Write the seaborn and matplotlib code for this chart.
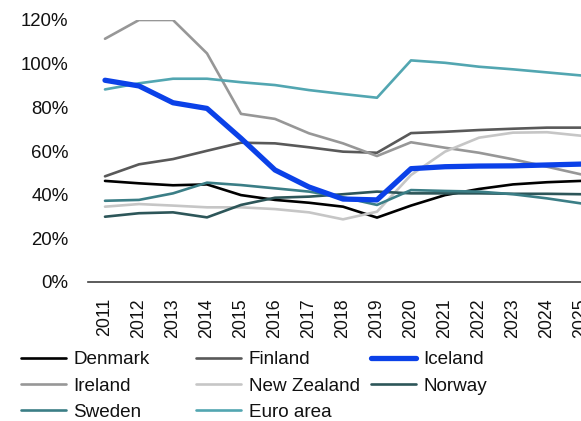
import matplotlib
matplotlib.use("Agg")
import matplotlib.pyplot as plt
import matplotlib.ticker as mticker
import seaborn as sns
import pandas as pd

years = list(range(2011, 2026))

denmark = [46.3, 45.2, 44.3, 44.7, 39.8, 37.6, 36.3, 34.5, 29.5, 35.0, 39.8, 42.6, 44.7, 45.7, 46.3]
finland = [48.4, 53.9, 56.3, 60.1, 63.8, 63.5, 61.7, 59.7, 59.2, 68.2, 68.8, 69.6, 70.2, 70.7, 70.7]
iceland = [92.4, 89.8, 82.1, 79.5, 65.8, 51.3, 43.5, 38.0, 37.6, 51.9, 52.8, 53.1, 53.2, 53.6, 54.0]
ireland = [111.4, 120.0, 120.0, 104.7, 77.0, 74.7, 68.1, 63.5, 57.7, 64.0, 61.5, 59.2, 56.2, 52.8, 49.3]
new_zealand = [34.5, 35.7, 35.0, 34.2, 34.2, 33.4, 31.9, 28.7, 32.2, 49.0, 59.7, 66.1, 68.4, 68.6, 67.0]
norway = [29.9, 31.5, 31.9, 29.6, 35.3, 38.6, 39.1, 40.2, 41.4, 40.6, 40.6, 40.6, 40.4, 40.4, 40.2]
sweden = [37.2, 37.6, 40.6, 45.5, 44.4, 42.9, 41.4, 38.8, 35.3, 42.1, 41.7, 41.4, 40.2, 38.3, 36.0]
euro_area = [88.2, 91.0, 93.1, 93.1, 91.5, 90.2, 87.9, 86.1, 84.4, 101.5, 100.4, 98.6, 97.4, 96.0, 94.6]

series = {
    "Denmark": denmark,
    "Finland": finland,
    "Iceland": iceland,
    "Ireland": ireland,
    "New Zealand": new_zealand,
    "Norway": norway,
    "Sweden": sweden,
    "Euro area": euro_area,
}

colors = {
    "Denmark": "#000000",
    "Finland": "#595959",
    "Iceland": "#0b41e8",
    "Ireland": "#979797",
    "New Zealand": "#c6c6c6",
    "Norway": "#2d5659",
    "Sweden": "#3b7e86",
    "Euro area": "#52a6b1",
}
widths = {name: 1.9 for name in series}
widths["Iceland"] = 3.8

y_ticks = [0, 20, 40, 60, 80, 100, 120]

df = pd.DataFrame(
    [(name, yr, v) for name, vals in series.items() for yr, v in zip(years, vals)],
    columns=["series", "year", "value"],
)

sns.set_theme(style="white")
plt.rcParams["font.family"] = ["Liberation Sans", "DejaVu Sans"]

fig = plt.figure(figsize=(5.81, 4.21), dpi=100)
ax = fig.add_axes([88 / 581, 139 / 421, 510 / 581, 262 / 421])

draw_order = ["Denmark", "Finland", "Ireland", "New Zealand", "Norway", "Sweden", "Euro area", "Iceland"]
lines = {}
for name in draw_order:
    sub = df[df["series"] == name]
    sns.lineplot(data=sub, x="year", y="value", color=colors[name],
                 linewidth=widths[name], ax=ax, legend=False)
    lines[name] = ax.lines[-1]

ax.set_xlim(2010.5, 2025.5)
ax.set_ylim(0, 120)
ax.set_yticks(y_ticks)
ax.yaxis.set_major_formatter(mticker.FuncFormatter(lambda v, p: f"{v:.0f}%"))
ax.set_xticks(years)
ax.set_xticklabels([str(y) for y in years], rotation=90)
ax.set_xlabel("")
ax.set_ylabel("")
ax.tick_params(axis="y", length=0, pad=14, labelsize=13.4, labelcolor="#111111")
ax.tick_params(axis="x", length=0, pad=11.5, labelsize=12.8, labelcolor="#111111")
for side in ["top", "right", "left"]:
    ax.spines[side].set_visible(False)
ax.spines["bottom"].set_color("#404040")
ax.spines["bottom"].set_linewidth(1.2)
ax.grid(False)

legend_cols = [["Denmark", "Ireland", "Sweden"],
               ["Finland", "New Zealand", "Euro area"],
               ["Iceland", "Norway"]]
col_x = [21, 196, 371]
for names, x0 in zip(legend_cols, col_x):
    leg = fig.legend([lines[n] for n in names], names,
                     loc="upper left", bbox_to_anchor=(x0 / 581, 1 - 351 / 421),
                     frameon=False, borderpad=0, borderaxespad=0,
                     handlelength=2.4, handletextpad=0.38, labelspacing=0.48,
                     fontsize=13.6)
    for t in leg.get_texts():
        t.set_color("#111111")

fig.savefig("out.png", dpi=100)
